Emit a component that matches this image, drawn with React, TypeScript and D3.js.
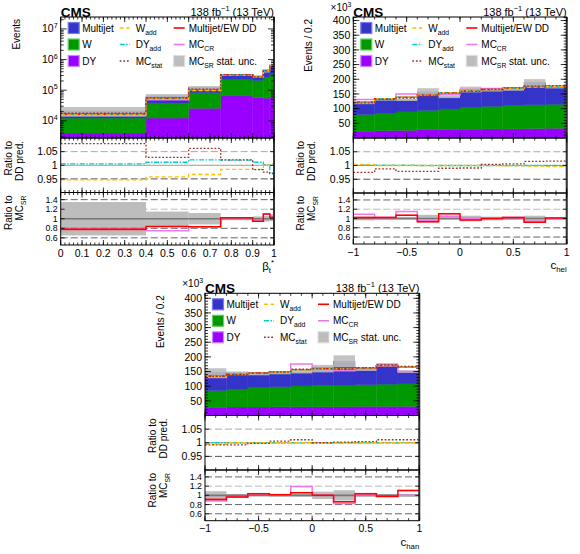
import React, { useRef, useEffect } from "react";
import * as d3 from "d3";

// beta_t* (top left), events per bin, log scale
const betaEdges = [0, 0.4, 0.6, 0.75, 0.9, 0.95, 0.98, 1];
const betaDY = [4000, 12300, 25700, 65000, 57000, 55000, 57000];
const betaW = [8300, 24700, 57300, 163000, 153000, 205000, 273000];
const betaMultijet = [8700, 28000, 39000, 82000, 80000, 140000, 270000];
const betaStatUnc = [0.35, 0.15, 0.12, 0.03, 0.05, 0.06, 0.05];
const betaDDOverSR = [0.78, 0.84, 0.83, 1.02, 0.95, 1.1, 1.03];
const betaCROverSR = [0.78, 0.75, 0.83, 1.02, 0.95, 1.1, 1.08];
const betaDDUnc = [0.04, 0.01, 0.01, 0.01, 0.015, 0.015, 0.02];
const betaWaddOverDD = [0.946, 0.957, 0.966, 0.985, 0.985, 1.0, 1.005];
const betaDYaddOverDD = [1.005, 1.011, 1.02, 1.019, 1.011, 1.002, 0.972];
const betaMCstatOverDD = [1.079, 1.029, 1.062, 1.02, 0.984, 0.975, 0.969];
const betaXTicks = [0, 0.1, 0.2, 0.3, 0.4, 0.5, 0.6, 0.7, 0.8, 0.9, 1];
const betaYTicks = [1e4, 1e5, 1e6, 1e7];

// c_hel (top right), events / 0.2 in units of 10^3
const cEdges = [-1, -0.8, -0.6, -0.4, -0.2, 0, 0.2, 0.4, 0.6, 0.8, 1];
const helDY = [23, 25, 26, 28, 28, 30, 31, 31, 32, 33];
const helW = [57, 59, 63, 66, 71, 74, 77, 80, 81, 82];
const helMultijet = [40, 47, 41, 63, 41, 61, 57, 55, 76, 59];
const helStatUnc = [0.04, 0.03, 0.03, 0.08, 0.03, 0.06, 0.04, 0.03, 0.06, 0.03];
const helDDOverSR = [1.02, 1.02, 1.07, 0.93, 1.1, 0.97, 1.0, 1.02, 0.92, 1.01];
const helCROverSR = [1.09, 1.02, 1.15, 0.95, 1.05, 1.0, 1.01, 1.02, 0.94, 1.0];
const helDDUnc = [0.02, 0.02, 0.02, 0.02, 0.02, 0.02, 0.02, 0.02, 0.02, 0.02];
const helWaddOverDD = [1.004, 1.0, 1.0, 1.0, 1.0, 1.0, 1.0, 0.999, 0.998, 0.996];
const helDYaddOverDD = [1.001, 1.001, 1.001, 1.0, 1.0, 1.0, 1.0, 1.0, 1.0, 1.0];
const helMCstatOverDD = [0.975, 0.988, 0.979, 0.979, 0.99, 0.991, 1.004, 1.006, 1.015, 1.016];

// c_han (bottom), events / 0.2 in units of 10^3
const hanDY = [28, 29, 29, 30, 30, 30, 30, 31, 31, 31];
const hanW = [57, 60, 66, 68, 71, 73, 74, 74, 76, 77];
const hanMultijet = [63, 57, 45, 47, 47, 57, 81, 52, 67, 42];
const hanStatUnc = [0.09, 0.03, 0.02, 0.03, 0.03, 0.08, 0.11, 0.03, 0.03, 0.03];
const hanDDOverSR = [0.91, 0.965, 1.035, 1.015, 1.055, 1.0, 0.86, 1.035, 0.98, 1.105];
const hanCROverSR = [0.875, 0.96, 1.035, 1.015, 1.19, 1.0, 0.825, 1.015, 0.97, 1.0];
const hanDDUnc = [0.03, 0.02, 0.02, 0.02, 0.02, 0.02, 0.02, 0.02, 0.02, 0.02];
const hanWaddOverDD = [0.994, 1.0, 1.0, 1.0, 1.0, 1.0, 1.0, 1.0, 1.0, 1.0];
const hanDYaddOverDD = [1.0, 1.0, 1.0, 1.0, 1.0, 1.0, 1.0, 1.0, 1.0, 1.0];
const hanMCstatOverDD = [0.992, 0.992, 0.998, 1.006, 1.011, 1.0, 1.002, 1.004, 1.011, 1.011];

const cXTicks = [-1, -0.5, 0, 0.5, 1];
const countYTicks = [50, 100, 150, 200, 250, 300, 350, 400];
const ratioDDTicks = [0.95, 1, 1.05];
const ratioSRTicks = [0.6, 0.8, 1, 1.2, 1.4];

const FONT = "'Liberation Sans', Arial, Helvetica, sans-serif";
const stackColors = { dy: "#9900ff", w: "#009900", multijet: "#3434c8" };
const stackEdges = { dy: "#cc88ff", w: "#66cc66", multijet: "#7a7aee" };
const lineStyles = {
  wAdd: { stroke: "#ffc000", dash: "4,2.5" },
  dyAdd: { stroke: "#00cccc", dash: "5,1.5,1.5,1.5" },
  mcStat: { stroke: "#a03030", dash: "1.8,1.8" },
  dd: { stroke: "#ff0000", dash: null },
  cr: { stroke: "#ee77ee", dash: null },
};

type Part = [string, string?];

function richText(parent, x, y, parts: Part[], size: number, anchor = "start") {
  const t = parent
    .append("text")
    .attr("x", x)
    .attr("y", y)
    .attr("font-size", size)
    .attr("text-anchor", anchor);
  let shift = 0;
  parts.forEach(([s, kind]) => {
    const target = kind === "sub" ? size * 0.3 : kind === "sup" ? -size * 0.42 : 0;
    t.append("tspan")
      .attr("dy", target - shift)
      .attr("font-size", kind ? size * 0.68 : size)
      .text(s);
    shift = target;
  });
  return t;
}

function drawPanel(svg, d, lay, idx) {
  const { left, right, top, mainBottom, r1Bottom, r2Bottom } = lay;
  const n = d.multijet.length;
  const bins = d3.range(n);
  const edges = d.edges;

  // 1. scales
  const x = d3.scaleLinear().domain([edges[0], edges[n]]).range([left, right]);
  const y = d.log
    ? d3.scaleLog().domain(d.yDomain).range([mainBottom, top])
    : d3.scaleLinear().domain(d.yDomain).range([mainBottom, top]);
  const yDD = d3.scaleLinear().domain([0.9, 1.1]).range([r1Bottom, mainBottom]);
  const ySR = d3.scaleLinear().domain([0.45, 1.55]).range([r2Bottom, r1Bottom]);

  const mcSR = bins.map((i) => d.dy[i] + d.w[i] + d.multijet[i]);
  const dd = bins.map((i) => mcSR[i] * d.ddOverSR[i]);
  const cr = bins.map((i) => mcSR[i] * d.crOverSR[i]);

  const g = svg.append("g").attr("font-family", FONT);
  const defs = g.append("defs");
  const pads = [
    ["main", top, mainBottom],
    ["r1", mainBottom, r1Bottom],
    ["r2", r1Bottom, r2Bottom],
  ];
  pads.forEach(([k, y0, y1]) =>
    defs
      .append("clipPath")
      .attr("id", `clip${idx}${k}`)
      .append("rect")
      .attr("x", left)
      .attr("y", y0)
      .attr("width", right - left)
      .attr("height", y1 - y0)
  );

  const step = (scale, vals) =>
    d3
      .line()
      .curve(d3.curveStepAfter)
      .x((p) => x(p[0]))
      .y((p) => scale(p[1]))([...vals.map((v, i) => [edges[i], v]), [edges[n], vals[n - 1]]]);

  const drawLine = (parent, scale, vals, st, width = 1.3) =>
    parent
      .append("path")
      .attr("d", step(scale, vals))
      .attr("fill", "none")
      .attr("stroke", st.stroke)
      .attr("stroke-width", width)
      .attr("stroke-dasharray", st.dash);

  const binRects = (parent, lo, hi, fill, opacity = 1) =>
    parent
      .append("g")
      .selectAll("rect")
      .data(bins)
      .join("rect")
      .attr("x", (i) => x(edges[i]))
      .attr("width", (i) => x(edges[i + 1]) - x(edges[i]))
      .attr("y", (i) => Math.min(lo(i), hi(i)))
      .attr("height", (i) => Math.abs(lo(i) - hi(i)))
      .attr("fill", fill)
      .attr("opacity", opacity);

  // 2. main pad: stacked MC_SR, stat band, predictions
  const main = g.append("g").attr("clip-path", `url(#clip${idx}main)`);
  const rows = bins.map((i) => ({ dy: d.dy[i], w: d.w[i], multijet: d.multijet[i] }));
  const layers = d3.stack().keys(["dy", "w", "multijet"])(rows);
  layers.forEach((layer) => {
    main
      .append("g")
      .selectAll("rect")
      .data(layer)
      .join("rect")
      .attr("x", (s, i) => x(edges[i]))
      .attr("width", (s, i) => x(edges[i + 1]) - x(edges[i]))
      .attr("y", (s) => y(s[1]))
      .attr("height", (s) => (s[0] > 0 ? y(s[0]) : mainBottom) - y(s[1]))
      .attr("fill", stackColors[layer.key])
      .attr("stroke", stackColors[layer.key])
      .attr("stroke-width", 0.4);
  });
  binRects(
    main,
    (i) => y(mcSR[i] * (1 + d.statUnc[i])),
    (i) => y(mcSR[i] * (1 - d.statUnc[i])),
    "#bdbdbd",
    0.9
  );
  drawLine(main, y, cr, lineStyles.cr, 1.5);
  drawLine(main, y, dd, lineStyles.dd, 1.5);
  drawLine(main, y, bins.map((i) => dd[i] * d.dyAdd[i]), lineStyles.dyAdd);
  drawLine(main, y, bins.map((i) => dd[i] * d.wAdd[i]), lineStyles.wAdd);
  drawLine(main, y, bins.map((i) => dd[i] * d.mcStat[i]), lineStyles.mcStat);

  // 3. ratio to DD prediction
  const r1 = g.append("g").attr("clip-path", `url(#clip${idx}r1)`);
  ratioDDTicks.forEach((t) =>
    r1
      .append("line")
      .attr("x1", left)
      .attr("x2", right)
      .attr("y1", yDD(t))
      .attr("y2", yDD(t))
      .attr("stroke", t === 1 ? "#999" : t > 1 ? "#aaa" : "#555")
      .attr("stroke-width", 1)
      .attr("stroke-dasharray", t === 1 ? null : "7,3")
  );
  drawLine(r1, yDD, d.dyAdd, lineStyles.dyAdd);
  drawLine(r1, yDD, d.wAdd, lineStyles.wAdd);
  drawLine(r1, yDD, d.mcStat, lineStyles.mcStat);

  // 4. ratio to MC_SR
  const r2 = g.append("g").attr("clip-path", `url(#clip${idx}r2)`);
  binRects(r2, (i) => ySR(1 + d.statUnc[i]), (i) => ySR(1 - d.statUnc[i]), "#bdbdbd");
  ratioSRTicks.forEach((t) =>
    r2
      .append("line")
      .attr("x1", left)
      .attr("x2", right)
      .attr("y1", ySR(t))
      .attr("y2", ySR(t))
      .attr("stroke", t === 1 ? "#777" : t === 1.2 ? "#bbb" : "#666")
      .attr("stroke-width", t === 1 ? 1.6 : 1)
      .attr("stroke-dasharray", t === 1 ? null : "7,3")
  );
  binRects(
    r2,
    (i) => ySR(d.ddOverSR[i] + d.ddUnc[i]),
    (i) => ySR(d.ddOverSR[i] - d.ddUnc[i]),
    "#ff6060",
    0.45
  );
  drawLine(r2, ySR, d.crOverSR, lineStyles.cr, 1.5);
  drawLine(r2, ySR, d.ddOverSR, lineStyles.dd, 1.5);

  // 5. frames and ticks
  pads.forEach(([, y0, y1]) => {
    g.append("rect")
      .attr("x", left)
      .attr("y", y0)
      .attr("width", right - left)
      .attr("height", y1 - y0)
      .attr("fill", "none")
      .attr("stroke", "#000")
      .attr("stroke-width", 1);
    g.append("line")
      .attr("x1", right)
      .attr("x2", right)
      .attr("y1", y0)
      .attr("y2", y1)
      .attr("stroke", "#333")
      .attr("stroke-width", 2);
    const minor = d3.range(edges[0], edges[n] + 1e-9, d.xMinorStep);
    [...minor.map((v) => [v, 2.5]), ...d.xTicks.map((v) => [v, 5])].forEach(([v, len]) => {
      g.append("line")
        .attr("x1", x(v)).attr("x2", x(v))
        .attr("y1", y1).attr("y2", y1 - len)
        .attr("stroke", "#000").attr("stroke-width", 0.8);
      g.append("line")
        .attr("x1", x(v)).attr("x2", x(v))
        .attr("y1", y0).attr("y2", y0 + len)
        .attr("stroke", "#000").attr("stroke-width", 0.8);
    });
  });

  const yTick = (yy, len) => {
    g.append("line").attr("x1", left).attr("x2", left + len).attr("y1", yy).attr("y2", yy)
      .attr("stroke", "#000").attr("stroke-width", 0.8);
    g.append("line").attr("x1", right).attr("x2", right - len).attr("y1", yy).attr("y2", yy)
      .attr("stroke", "#000").attr("stroke-width", 0.8);
  };

  const fs = 10.5;
  if (d.log) {
    const [lo, hi] = d.yDomain;
    d3.range(Math.floor(Math.log10(lo)), Math.ceil(Math.log10(hi))).forEach((e) =>
      d3.range(2, 10).forEach((m) => {
        const v = m * 10 ** e;
        if (v > lo && v < hi) yTick(y(v), 3);
      })
    );
    d.yTicks.forEach((t) => {
      yTick(y(t), 6);
      richText(g, left - 3, y(t) + 3.5, [["10"], [String(Math.round(Math.log10(t))), "sup"]], fs, "end");
    });
  } else {
    d3.range(10, d.yDomain[1], 10).forEach((v) => yTick(y(v), 3));
    d.yTicks.forEach((t) => {
      yTick(y(t), 6);
      g.append("text").attr("x", left - 3).attr("y", y(t) + 3.7).attr("font-size", fs)
        .attr("text-anchor", "end").text(t);
    });
    richText(g, left - 2, top - 6, [["×10"], ["3", "sup"]], 10, "end");
  }

  ratioDDTicks.forEach((t) => {
    yTick(yDD(t), 4);
    g.append("text").attr("x", left - 3).attr("y", yDD(t) + 3.7).attr("font-size", fs)
      .attr("text-anchor", "end").text(t);
  });
  ratioSRTicks.forEach((t) => {
    yTick(ySR(t), 4);
    g.append("text").attr("x", left - 3).attr("y", ySR(t) + 3).attr("font-size", 8.8)
      .attr("text-anchor", "end").text(t);
  });

  d.xTicks.forEach((t) =>
    g.append("text")
      .attr("x", x(t))
      .attr("y", r2Bottom + 11.5)
      .attr("font-size", fs)
      .attr("text-anchor", "middle")
      .text((t < 0 ? "−" : "") + Math.abs(t))
  );

  // 6. axis titles
  richText(g, right, r2Bottom + 25, d.xTitle, 11.5, "end");
  const rotated = (xx, yy, parts) =>
    richText(
      g.append("g").attr("transform", `translate(${xx},${yy}) rotate(-90)`),
      0, 0, parts, 10, "end"
    );
  rotated(left - 41, top + 2, [[d.yTitle]]);
  rotated(left - 49, mainBottom + 3, [["Ratio to"]]);
  rotated(left - 38, mainBottom + 3, [["DD pred."]]);
  rotated(left - 49, r1Bottom + 3, [["Ratio to"]]);
  rotated(left - 38, r1Bottom + 3, [["MC"], ["SR", "sub"]]);

  g.append("text").attr("x", left).attr("y", top - 0.5).attr("font-size", 13.5)
    .attr("font-weight", "bold").text("CMS");
  richText(g, right, top - 1.5, [["138 fb"], ["−1", "sup"], [" (13 TeV)"]], 11, "end");

  // 7. legend
  const rowsY = [top + 11, top + 27.5, top + 44];
  const leg = g.append("g");
  [["multijet", "Multijet"], ["w", "W"], ["dy", "DY"]].forEach(([k, label], r) => {
    leg.append("rect").attr("x", left + 7.5).attr("y", rowsY[r] - 5.5).attr("width", 11).attr("height", 11)
      .attr("fill", stackColors[k]).attr("stroke", stackEdges[k]).attr("stroke-width", 1.2);
    richText(leg, left + 21.5, rowsY[r] + 3.6, [[label]], 10);
  });
  const col2: [string, Part[]][] = [
    ["wAdd", [["W"], ["add", "sub"]]],
    ["dyAdd", [["DY"], ["add", "sub"]]],
    ["mcStat", [["MC"], ["stat", "sub"]]],
  ];
  col2.forEach(([k, parts], r) => {
    leg.append("line").attr("x1", left + 59).attr("x2", left + 69).attr("y1", rowsY[r]).attr("y2", rowsY[r])
      .attr("stroke", lineStyles[k].stroke).attr("stroke-width", 1.4).attr("stroke-dasharray", lineStyles[k].dash);
    richText(leg, left + 75, rowsY[r] + 3.6, parts, 10);
  });
  leg.append("line").attr("x1", left + 113).attr("x2", left + 124).attr("y1", rowsY[0]).attr("y2", rowsY[0])
    .attr("stroke", lineStyles.dd.stroke).attr("stroke-width", 1.6);
  richText(leg, left + 128, rowsY[0] + 3.6, [["Multijet/EW DD"]], 10);
  leg.append("line").attr("x1", left + 113).attr("x2", left + 124).attr("y1", rowsY[1]).attr("y2", rowsY[1])
    .attr("stroke", lineStyles.cr.stroke).attr("stroke-width", 1.6);
  richText(leg, left + 128, rowsY[1] + 3.6, [["MC"], ["CR", "sub"]], 10);
  leg.append("rect").attr("x", left + 113).attr("y", rowsY[2] - 5.5).attr("width", 11).attr("height", 11)
    .attr("fill", "#bdbdbd").attr("stroke", "#dddddd").attr("stroke-width", 1.2);
  richText(leg, left + 128, rowsY[2] + 3.6, [["MC"], ["SR", "sub"], [" stat. unc."]], 10);
}

const panels = [
  {
    data: {
      log: true, edges: betaEdges, dy: betaDY, w: betaW, multijet: betaMultijet, statUnc: betaStatUnc,
      ddOverSR: betaDDOverSR, crOverSR: betaCROverSR, ddUnc: betaDDUnc, wAdd: betaWaddOverDD,
      dyAdd: betaDYaddOverDD, mcStat: betaMCstatOverDD, xTicks: betaXTicks, yTicks: betaYTicks,
      yDomain: [2750, 2.45e7], xMinorStep: 0.02, yTitle: "Events",
      xTitle: [["β"], ["t", "sub"], ["*", "sup"]],
    },
    layout: { left: 60.7, right: 274, top: 17, mainBottom: 138, r1Bottom: 192.5, r2Bottom: 245 },
  },
  {
    data: {
      log: false, edges: cEdges, dy: helDY, w: helW, multijet: helMultijet, statUnc: helStatUnc,
      ddOverSR: helDDOverSR, crOverSR: helCROverSR, ddUnc: helDDUnc, wAdd: helWaddOverDD,
      dyAdd: helDYaddOverDD, mcStat: helMCstatOverDD, xTicks: cXTicks, yTicks: countYTicks,
      yDomain: [0, 412], xMinorStep: 0.1, yTitle: "Events / 0.2",
      xTitle: [["c"], ["hel", "sub"]],
    },
    layout: { left: 353.3, right: 566.7, top: 17, mainBottom: 138, r1Bottom: 193, r2Bottom: 244 },
  },
  {
    data: {
      log: false, edges: cEdges, dy: hanDY, w: hanW, multijet: hanMultijet, statUnc: hanStatUnc,
      ddOverSR: hanDDOverSR, crOverSR: hanCROverSR, ddUnc: hanDDUnc, wAdd: hanWaddOverDD,
      dyAdd: hanDYaddOverDD, mcStat: hanMCstatOverDD, xTicks: cXTicks, yTicks: countYTicks,
      yDomain: [0, 417], xMinorStep: 0.1, yTitle: "Events / 0.2",
      xTitle: [["c"], ["han", "sub"]],
    },
    layout: { left: 205, right: 419.3, top: 293.3, mainBottom: 415.5, r1Bottom: 470, r2Bottom: 520.7 },
  },
];

export default function App() {
  const svgRef = useRef(null);

  useEffect(() => {
    const svg = d3.select(svgRef.current);
    svg.selectAll("*").remove();
    panels.forEach((p, i) => drawPanel(svg, p.data, p.layout, i));
  }, []);

  return (
    <div style={{ position: "absolute", left: 0, top: 0 }}>
      <svg ref={svgRef} width={580} height={554} style={{ display: "block", background: "#fff" }} />
    </div>
  );
}
